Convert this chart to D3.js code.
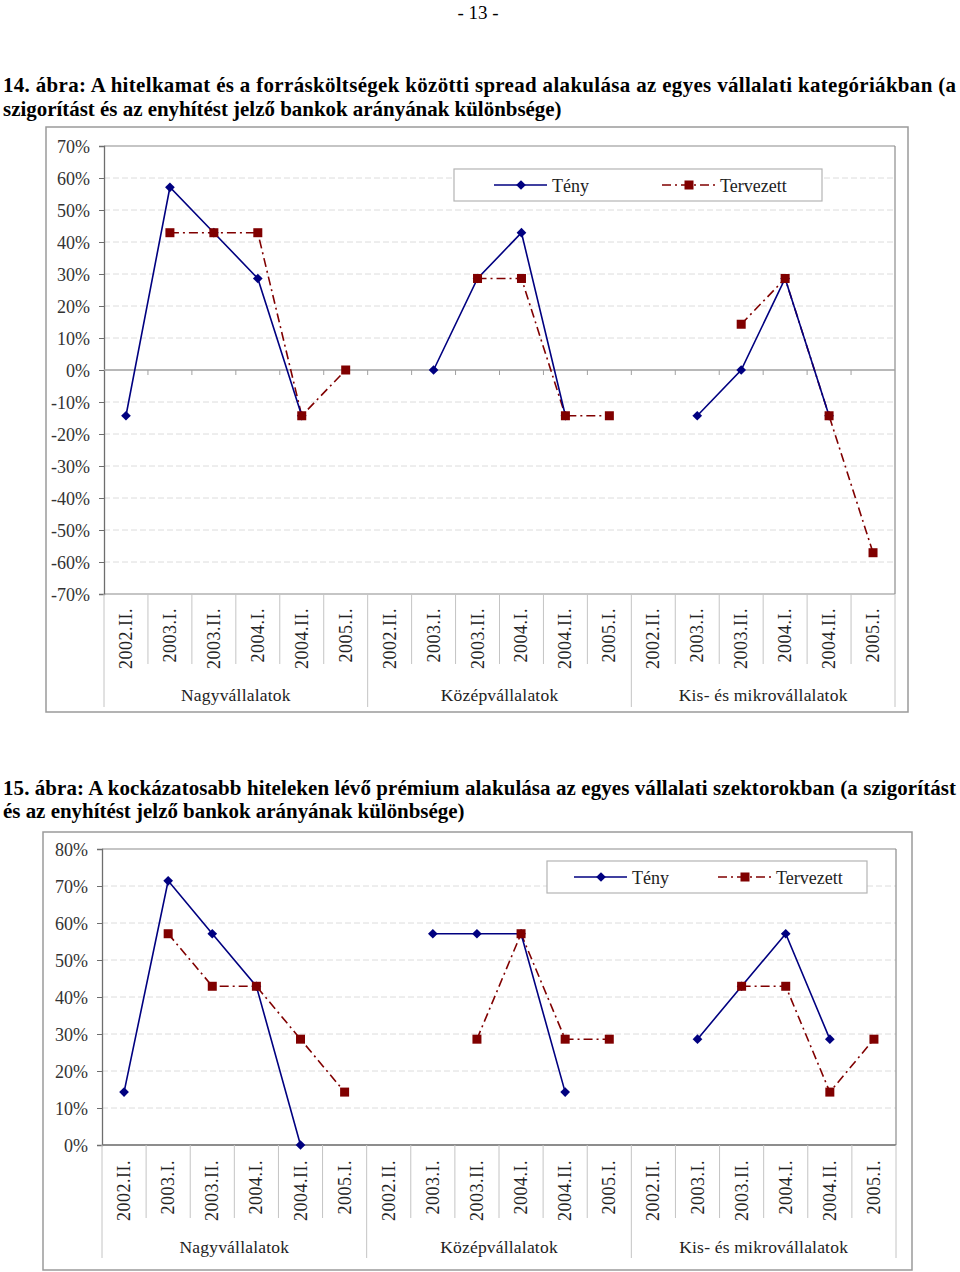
<!DOCTYPE html>
<html>
<head>
<meta charset="utf-8">
<script src="https://cdn.jsdelivr.net/npm/d3@7"></script>
<style>
  html, body { margin: 0; padding: 0; background: #fff; }
  svg { display: block; }
  text { font-family: "Liberation Serif", "Times New Roman", serif; }
</style>
</head>
<body>
<svg id="page" width="960" height="1272"></svg>
<script>
// ---------------- DATA ----------------
const periods = ["2002.II.", "2003.I.", "2003.II.", "2004.I.", "2004.II.", "2005.I."];
const groups = ["Nagyvállalatok", "Középvállalatok", "Kis- és mikrovállalatok"];
const seriesNames = ["Tény", "Tervezett"];

// Chart 14 (percent)
const chart1Teny = [-14.3, 57.1, 42.9, 28.6, -14.3, null,
                    null, 0, 28.6, 42.9, -14.3, null,
                    null, -14.3, 0, 28.6, -14.3, null];
const chart1Tervezett = [null, 42.9, 42.9, 42.9, -14.3, 0,
                         null, null, 28.6, 28.6, -14.3, -14.3,
                         null, null, 14.3, 28.6, -14.3, -57.1];
const chart1Ticks = [70, 60, 50, 40, 30, 20, 10, 0, -10, -20, -30, -40, -50, -60, -70];

// Chart 15 (percent)
const chart2Teny = [14.3, 71.4, 57.1, 42.9, 0, null,
                    null, 57.1, 57.1, 57.1, 14.3, null,
                    null, 28.6, 42.9, 57.1, 28.6, null];
const chart2Tervezett = [null, 57.1, 42.9, 42.9, 28.6, 14.3,
                         null, null, 28.6, 57.1, 28.6, 28.6,
                         null, null, 42.9, 42.9, 14.3, 28.6];
const chart2Ticks = [80, 70, 60, 50, 40, 30, 20, 10, 0];

const pageNumber = "- 13 -";
const title1 = ["14. ábra: A hitelkamat és a forrásköltségek közötti spread alakulása az egyes vállalati kategóriákban (a",
                "szigorítást és az enyhítést jelző bankok arányának különbsége)"];
const title2 = ["15. ábra: A kockázatosabb hiteleken lévő prémium alakulása az egyes vállalati szektorokban (a szigorítást",
                "és az enyhítést jelző bankok arányának különbsége)"];

// ---------------- DRAW ----------------
const svg = d3.select("#page");
const NAVY = "#000080", MAROON = "#800000";

svg.append("text").attr("x", 478).attr("y", 19).attr("text-anchor", "middle")
  .style("font-size", "19px").text(pageNumber);

// horizontal condensing factor derived from the 2nd line of title 14 (natural width ~559px)
let titleScale = 1;
(function () {
  const probe = svg.append("text").style("font-size", "21px").style("font-weight", "bold").text(title1[1]);
  titleScale = 559 / probe.node().getComputedTextLength();
  probe.remove();
})();

function drawTitle(lines, y1, y2) {
  const g = svg.append("g").attr("transform", `translate(3,0) scale(${titleScale},1)`);
  g.append("text").attr("x", 0).attr("y", y1)
    .style("font-size", "21px").style("font-weight", "bold")
    .attr("textLength", 953 / titleScale).attr("lengthAdjust", "spacing")
    .text(lines[0]);
  g.append("text").attr("x", 0).attr("y", y2)
    .style("font-size", "21px").style("font-weight", "bold").text(lines[1]);
}
drawTitle(title1, 92, 116);
drawTitle(title2, 795, 818);

const keys = [];
groups.forEach(g => periods.forEach(p => keys.push(g + "|" + p)));

function drawChart(cfg) {
  const g = svg.append("g");
  // outer frame
  g.append("rect").attr("x", cfg.outer[0]).attr("y", cfg.outer[1])
    .attr("width", cfg.outer[2] - cfg.outer[0]).attr("height", cfg.outer[3] - cfg.outer[1])
    .attr("fill", "#fff").attr("stroke", "#9a9a9a").attr("stroke-width", 1.5);

  const x = d3.scaleBand().domain(keys).range([cfg.left, cfg.right]).padding(0);
  const y = d3.scaleLinear().domain(cfg.domain).range([cfg.bottom, cfg.top]);
  const cx = i => x(keys[i]) + x.bandwidth() / 2;

  // gridlines
  g.append("g").selectAll("line").data(cfg.ticks.filter(t => t !== cfg.domain[1] && t !== cfg.axisAt && t !== cfg.domain[0]))
    .join("line")
    .attr("x1", cfg.left).attr("x2", cfg.right)
    .attr("y1", d => y(d)).attr("y2", d => y(d))
    .attr("stroke", "#dcdcdc").attr("stroke-width", 1).attr("stroke-dasharray", "6,3");

  // plot border
  g.append("line").attr("x1", cfg.left).attr("x2", cfg.right).attr("y1", cfg.top).attr("y2", cfg.top)
    .attr("stroke", "#8c8c8c").attr("stroke-width", 1.2);
  g.append("line").attr("x1", cfg.right).attr("x2", cfg.right).attr("y1", cfg.top).attr("y2", cfg.bottom)
    .attr("stroke", "#8c8c8c").attr("stroke-width", 1.2);
  g.append("line").attr("x1", cfg.left).attr("x2", cfg.right).attr("y1", cfg.bottom).attr("y2", cfg.bottom)
    .attr("stroke", "#8c8c8c").attr("stroke-width", 1.2);

  // y axis
  const yAxis = d3.axisLeft(y).tickValues(cfg.ticks).tickSize(5).tickPadding(9)
    .tickFormat(d => d + "%");
  const ya = g.append("g").attr("transform", `translate(${cfg.left},0)`).call(yAxis);
  ya.select(".domain").attr("stroke", "#6e6e6e").attr("stroke-width", 1.3);
  ya.selectAll(".tick line").attr("stroke", "#6e6e6e");
  ya.selectAll(".tick text").style("font-family", "'Liberation Serif', serif")
    .style("font-size", cfg.yFont).attr("fill", "#333").attr("dy", "0.34em");

  // horizontal category axis line at 0 with ticks
  if (cfg.axisAt !== cfg.domain[0]) {
    g.append("line").attr("x1", cfg.left).attr("x2", cfg.right)
      .attr("y1", y(cfg.axisAt)).attr("y2", y(cfg.axisAt))
      .attr("stroke", "#a0a0a0").attr("stroke-width", 1.3);
    g.append("g").selectAll("line").data(d3.range(1, keys.length)).join("line")
      .attr("x1", i => x(keys[i])).attr("x2", i => x(keys[i]))
      .attr("y1", y(cfg.axisAt)).attr("y2", y(cfg.axisAt) + 5)
      .attr("stroke", "#a0a0a0").attr("stroke-width", 1);
  } else {
    g.append("line").attr("x1", cfg.left).attr("x2", cfg.right)
      .attr("y1", y(cfg.axisAt)).attr("y2", y(cfg.axisAt))
      .attr("stroke", "#7a7a7a").attr("stroke-width", 1.5);
  }

  // category separators below plot
  g.append("g").selectAll("line").data(d3.range(0, keys.length + 1)).join("line")
    .attr("x1", i => i < keys.length ? x(keys[i]) : cfg.right)
    .attr("x2", i => i < keys.length ? x(keys[i]) : cfg.right)
    .attr("y1", cfg.bottom)
    .attr("y2", i => (i % periods.length === 0) ? cfg.groupSepEnd : cfg.sepEnd)
    .attr("stroke", "#c4c4c4").attr("stroke-width", 1);

  // period labels (rotated)
  g.append("g").selectAll("text").data(keys).join("text")
    .attr("transform", (d, i) => `translate(${cx(i) + cfg.catShift},${cfg.catTop}) rotate(-90)`)
    .attr("text-anchor", "end")
    .style("font-size", cfg.catFont).style("letter-spacing", "0.5px").attr("fill", "#222")
    .text(d => d.split("|")[1]);

  // group labels
  g.append("g").selectAll("text").data(groups).join("text")
    .attr("x", (d, gi) => (x(keys[gi * periods.length]) + (gi < groups.length - 1 ? x(keys[(gi + 1) * periods.length]) : cfg.right)) / 2)
    .attr("y", cfg.groupY).attr("text-anchor", "middle")
    .style("font-size", cfg.groupFont).style("letter-spacing", "0.2px").attr("fill", "#222")
    .text(d => d);

  // lines
  const line = d3.line().defined(d => d.v != null).x(d => cx(d.i)).y(d => y(d.v));
  const tenyPts = cfg.teny.map((v, i) => ({ v, i }));
  const terPts = cfg.tervezett.map((v, i) => ({ v, i }));

  g.append("path").datum(terPts).attr("d", line).attr("fill", "none")
    .attr("stroke", MAROON).attr("stroke-width", 1.6).attr("stroke-dasharray", "9,4,2,4");
  g.append("path").datum(tenyPts).attr("d", line).attr("fill", "none")
    .attr("stroke", NAVY).attr("stroke-width", 1.6);

  const diamond = d3.symbol().type(d3.symbolDiamond2).size(60);
  g.append("g").selectAll("path").data(tenyPts.filter(d => d.v != null)).join("path")
    .attr("d", diamond).attr("transform", d => `translate(${cx(d.i)},${y(d.v)})`)
    .attr("fill", NAVY);
  g.append("g").selectAll("rect").data(terPts.filter(d => d.v != null)).join("rect")
    .attr("x", d => cx(d.i) - 4.5).attr("y", d => y(d.v) - 4.5)
    .attr("width", 9).attr("height", 9).attr("fill", MAROON);

  // legend
  const L = cfg.legend;
  const lg = g.append("g").attr("transform", `translate(${L[0]},${L[1]})`);
  lg.append("rect").attr("width", L[2]).attr("height", 32).attr("fill", "#fff")
    .attr("stroke", "#b4b4b4").attr("stroke-width", 1.2);
  lg.append("line").attr("x1", L[4]).attr("x2", L[4] + 53).attr("y1", 16).attr("y2", 16)
    .attr("stroke", NAVY).attr("stroke-width", 1.6);
  lg.append("path").attr("d", diamond).attr("transform", `translate(${L[4] + 27},16)`).attr("fill", NAVY);
  lg.append("text").attr("x", L[4] + 58).attr("y", 23).style("font-size", "18px").attr("fill", "#222").text(seriesNames[0]);
  lg.append("line").attr("x1", L[3]).attr("x2", L[3] + 54).attr("y1", 16).attr("y2", 16)
    .attr("stroke", MAROON).attr("stroke-width", 1.6).attr("stroke-dasharray", "9,4,2,4");
  lg.append("rect").attr("x", L[3] + 22.5).attr("y", 11.5).attr("width", 9).attr("height", 9).attr("fill", MAROON);
  lg.append("text").attr("x", L[3] + 58).attr("y", 23).style("font-size", "18px").attr("fill", "#222").text(seriesNames[1]);
}

drawChart({
  outer: [46, 127, 908, 712],
  left: 104, right: 895, top: 146, bottom: 594,
  domain: [-70, 70], axisAt: 0, ticks: chart1Ticks,
  teny: chart1Teny, tervezett: chart1Tervezett,
  sepEnd: 664, groupSepEnd: 707, catTop: 608, catShift: 6,
  groupY: 701, catFont: "18px", groupFont: "17.5px", yFont: "18px",
  legend: [454, 169, 368, 208, 40]
});

drawChart({
  outer: [43, 832, 912, 1270],
  left: 102, right: 896, top: 849, bottom: 1145,
  domain: [0, 80], axisAt: 0, ticks: chart2Ticks,
  teny: chart2Teny, tervezett: chart2Tervezett,
  sepEnd: 1218, groupSepEnd: 1258, catTop: 1160, catShift: 6,
  groupY: 1253, catFont: "18px", groupFont: "17.5px", yFont: "18px",
  legend: [547, 861, 320, 171, 27]
});
</script>
</body>
</html>
